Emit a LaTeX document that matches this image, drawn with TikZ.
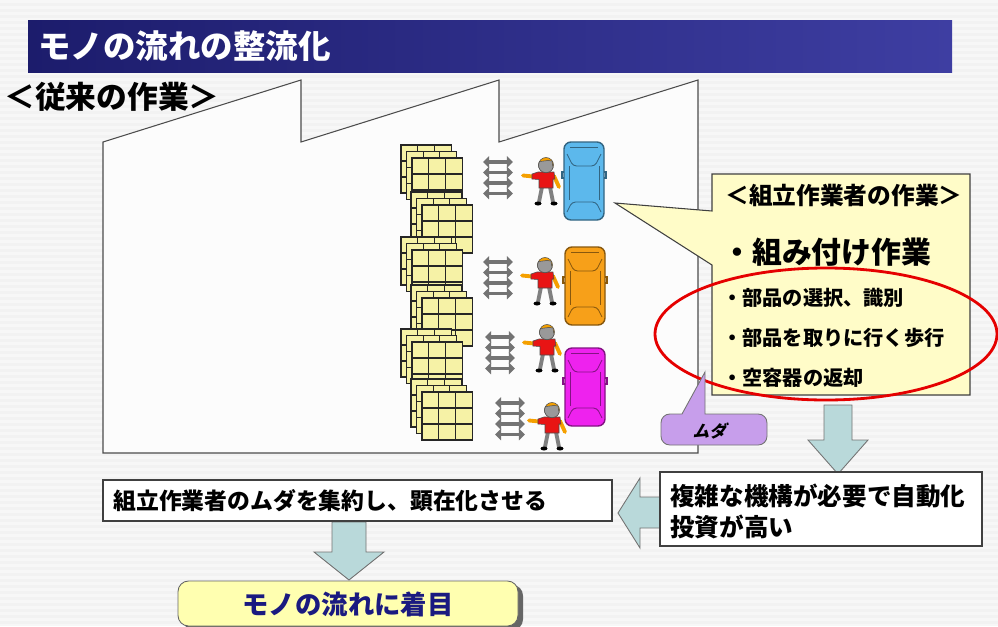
\documentclass[tikz,border=0pt]{standalone}
\usepackage{fontspec}
\newfontfamily\jp{Noto Sans CJK JP}
\usetikzlibrary{arrows.meta,positioning}

\definecolor{navyL}{HTML}{1C1C6C}
\definecolor{navyR}{HTML}{3E3EA2}
\definecolor{crateY}{HTML}{F6F2A6}
\definecolor{noteY}{HTML}{FFFCC8}
\definecolor{mudaP}{HTML}{C79EEB}
\definecolor{flowB}{HTML}{B9D9DA}
\definecolor{carB}{HTML}{5CB8EC}
\definecolor{carO}{HTML}{F7A019}
\definecolor{carM}{HTML}{EE22EE}
\definecolor{shirtR}{HTML}{E81414}
\definecolor{skinO}{HTML}{F5A000}
\definecolor{focusY}{HTML}{FFFFB0}
\definecolor{focusT}{HTML}{1A1A80}

\newcommand{\fs}[1]{\fontsize{#1}{1.25\dimexpr#1\relax}\selectfont}

% one block of parts boxes, front face top-left at (#1,#2)
\newcommand{\crates}[2]{%
  \foreach \k in {2,1,0} {
    \foreach \i in {0,1,2} {
      \foreach \j in {0,1,2} {
        \draw[fill=crateY,draw=black!85,line width=0.6pt]
          ({#1+\i*16.7-\k*5.5},{#2+\j*16-\k*6.5}) rectangle ++(16.7,16);
      }
    }
  }
}

% stacked two-way arrows between parts and worker
\newcommand{\ladder}[2]{%
  \foreach \r in {0,...,3}
    \draw[rail] (#1,{#2+\r*10.5}) -- ++(30,0);
}

% worker, head centre at (#1,#2)
\newcommand{\worker}[2]{%
  \begin{scope}[shift={(#1,#2)}]
    \draw[line width=2.2pt,gray] (-4,22) -- (-7,37);
    \draw[line width=2.2pt,gray] (4,22) -- (7,37);
    \fill[black] (-8,38.5) ellipse (3.5 and 2);
    \fill[black] (8,38.5) ellipse (3.5 and 2);
    \draw[line width=2.2pt,skinO,line cap=round] (-13,11.5) -- (-23,10.5);
    \draw[line width=2.2pt,skinO,line cap=round] (8,11) -- (13,22);
    \draw[fill=shirtR,draw=black!70,line width=0.3pt]
      (-8,7) -- (8,7) -- (9,14) -- (7,14) -- (7,23) -- (-7,23)
      -- (-7,14.5) -- (-14,14) -- (-14,9) -- cycle;
    \draw[fill=skinO,draw=black!70,line width=0.3pt] (0,0) circle (7.5);
    \draw[fill=gray!80,draw=black!70,line width=0.3pt]
      (-6.5,-3.5) arc (210:20:7.5) -- (6,-4) -- (2,-4.5) -- cycle;
  \end{scope}}

% car seen from above, top-left at (#1,#2), body colour #3
\newcommand{\car}[3]{%
  \begin{scope}[shift={(#1,#2)}]
    \draw[fill=#3,draw=#3!55!black,line width=0.8pt,rounded corners=4pt]
      (0,0) rectangle (40,78);
    \draw[#3!55!black,line width=0.5pt] (6,5) -- (34,5);
    \draw[#3!55!black,line width=0.5pt,rounded corners=2pt]
      (3,12) -- (9,24) -- (31,24) -- (37,12);
    \draw[#3!55!black,line width=0.5pt] (5,24) -- (5,58) (35,24) -- (35,58);
    \draw[#3!55!black,line width=0.5pt,rounded corners=2pt]
      (3,70) -- (8,60) -- (32,60) -- (37,70);
    \draw[#3!55!black,line width=0.6pt] (0,30) -- (-2,30) -- (-2,36) -- (0,36)
      (40,30) -- (42,30) -- (42,36) -- (40,36);
  \end{scope}}

\begin{document}
\begin{tikzpicture}[x=0.02cm,y=-0.02cm,
  rail/.style={draw=black!55,line width=2pt,
    {Triangle[length=3.5pt,width=6.5pt]}-{Triangle[length=3.5pt,width=6.5pt]}},
  plainbox/.style={fill=white,draw=black!75,line width=0.8pt},
  flow/.style={fill=flowB,draw=black!55,line width=0.5pt},
  jtext/.style={font=\jp\bfseries,inner sep=0pt}]

  \useasboundingbox (0,0) rectangle (998,626);

  % slide background
  \fill[black!5] (0,0) rectangle (998,626);
  \foreach \y in {0,6,...,624}
    \fill[white,opacity=0.45] (0,\y) rectangle (998,\y+3);

  % title bar
  \shade[left color=navyL,right color=navyR] (28,20) rectangle (952,72);
  \node[jtext,text=white,anchor=west] (title) at (38,46) {\fs{18.5pt}モノの流れの整流化};
  \node[jtext,anchor=west] (before) at (4,97) {\fs{17.5pt}＜従来の作業＞};

  % factory building
  \draw[fill=black!1,draw=black!70,line width=0.6pt]
    (103,453) -- (103,142) -- (301,80) -- (301,142) -- (499,80) -- (499,142)
    -- (698,80) -- (698,453) -- cycle;

  % parts
  \crates{412}{158}
  \crates{422}{205}
  \crates{412}{250}
  \crates{422}{298}
  \crates{412}{342}
  \crates{422}{392}

  \ladder{483}{162}
  \ladder{483}{262}
  \ladder{485}{337}
  \ladder{495}{403}

  \worker{546}{165}
  \worker{545}{265}
  \worker{547}{332}
  \worker{552}{410}

  \car{564}{142}{carB}
  \car{565}{247}{carO}
  \car{565}{348}{carM}

  % worker's tasks
  \draw[fill=noteY,draw=black!75,line width=0.6pt]
    (712,174) -- (970,174) -- (970,395) -- (712,395) -- (712,265)
    -- (615,203) -- (712,211) -- cycle;
  \node[jtext,anchor=west] (taskhead) at (725,195) {\fs{13.5pt}＜組立作業者の作業＞};
  \node[jtext,anchor=west] (assembly) at (722,252) {\fs{17pt}・組み付け作業};
  \node[jtext,anchor=west] (pick) at (722,298) {\fs{11.5pt}・部品の選択、識別};
  \node[jtext,anchor=west] (walk) at (722,338) {\fs{11.5pt}・部品を取りに行く歩行};
  \node[jtext,anchor=west] (empty) at (722,378) {\fs{11.5pt}・空容器の返却};
  \draw[red!90!black,line width=1.6pt] (826,334) ellipse (171 and 66);

  % waste label
  \draw[fill=mudaP,draw=black!55,line width=0.5pt]
    (682,414) -- (705,372) -- (705,414) [rounded corners=5pt] -- (767,414)
    -- (767,445) -- (661,445) -- (661,414) [sharp corners] -- cycle;
  \node[jtext,xslant=0.25] (muda) at (711,431) {\fs{9.5pt}ムダ};

  % flow of conclusions
  \draw[flow] (824,405) -- (852,405) -- (852,440) -- (868,440) -- (838,474)
    -- (808,440) -- (824,440) -- cycle;
  \draw[flow] (661,497) -- (640,497) -- (640,478) -- (618,513) -- (640,548)
    -- (640,528) -- (661,528) -- cycle;
  \draw[flow] (332,522) -- (366,522) -- (366,552) -- (384,552) -- (349,580)
    -- (314,552) -- (332,552) -- cycle;

  \draw[plainbox] (103,480) rectangle (612,521);
  \node[jtext,anchor=west] (gather) at (113,501) {\fs{13pt}組立作業者のムダを集約し、顕在化させる};

  \draw[plainbox] (660,472) rectangle (982,546);
  \node[jtext,font=\jp\bfseries\fs{14pt},anchor=north west,align=left] (costly) at (670,484)
    {複雑な機構が必要で自動化\\投資が高い};

  \fill[black!60,rounded corners=6pt] (183,585) rectangle (523,630);
  \draw[fill=focusY,draw=black!60,line width=0.5pt,rounded corners=6pt]
    (178,581) rectangle (518,626);
  \node[jtext,text=focusT] (focus) at (348,604) {\fs{15pt}モノの流れに着目};
\end{tikzpicture}
\end{document}
